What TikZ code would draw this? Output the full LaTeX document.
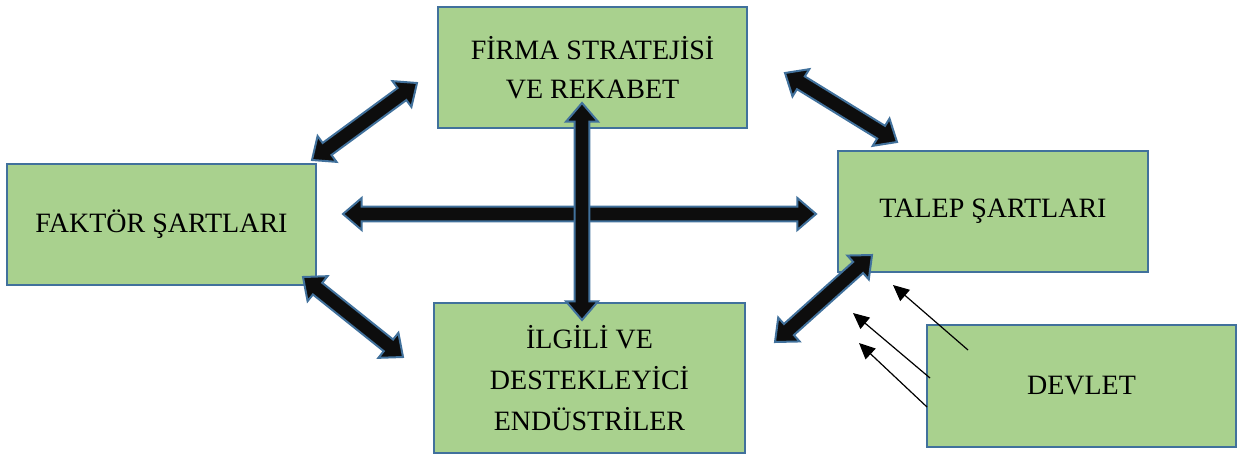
\documentclass[tikz,border=0pt]{standalone}
\usepackage{fontspec}
\setmainfont{Liberation Serif}
\usetikzlibrary{calc,arrows.meta}
\definecolor{boxgreen}{HTML}{A9D18E}
\definecolor{boxblue}{HTML}{41719C}
\definecolor{arrblack}{HTML}{0D0D0D}
\newcommand\blockarrow[2]{%
  \filldraw[blockarr] (#1)
   -- ($(#1)!14pt!(#2)!12pt!90:(#2)$)
   -- ($(#1)!14pt!(#2)!5.6pt!90:(#2)$)
   -- ($(#2)!14pt!(#1)!5.6pt!-90:(#1)$)
   -- ($(#2)!14pt!(#1)!12pt!-90:(#1)$)
   -- (#2)
   -- ($(#2)!14pt!(#1)!12pt!90:(#1)$)
   -- ($(#2)!14pt!(#1)!5.6pt!90:(#1)$)
   -- ($(#1)!14pt!(#2)!5.6pt!-90:(#2)$)
   -- ($(#1)!14pt!(#2)!12pt!-90:(#2)$)
   -- cycle;}
\tikzset{
  box/.style={draw=boxblue, fill=boxgreen, line width=2pt, rectangle,
    inner sep=0pt, align=center, text=black,
    font=\fontsize{21}{29.5}\selectfont},
  blockarr/.style={draw=boxblue, fill=arrblack, line width=1.5pt, line join=miter},
  thinarr/.style={draw=black, line width=0.9pt, -{Triangle[length=12pt,width=11pt]}}
}
\begin{document}
\begin{tikzpicture}[x=0.75pt,y=-0.75pt]
\useasboundingbox (0,0) rectangle (1245,457);
% boxes
\node[box, minimum width=231.75pt, minimum height=90.75pt] (firma) at (592.5,67.5) {FİRMA STRATEJİSİ\\VE REKABET};
\node[box, minimum width=231.75pt, minimum height=90.75pt] (faktor) at (161.5,224.5) {FAKTÖR ŞARTLARI};
\node[box, minimum width=232.5pt, minimum height=90.75pt] (talep) at (993,211.5) {TALEP ŞARTLARI};
\node[box, minimum width=233.25pt, minimum height=112.5pt, font=\fontsize{21}{31}\selectfont] (ilgili) at (589.5,378) {\raisebox{0pt}[0pt][0pt]{}İLGİLİ VE\\DESTEKLEYİCİ\\ENDÜSTRİLER};
\node[box, minimum width=231.75pt, minimum height=91.5pt] (devlet) at (1081.5,386) {DEVLET};
% connector end points
\coordinate (a1) at (417,83);  \coordinate (a2) at (312,160);
\coordinate (b1) at (785,73);  \coordinate (b2) at (897,142);
\coordinate (c1) at (343,214); \coordinate (c2) at (816,214);
\coordinate (d1) at (582,103); \coordinate (d2) at (582,320);
\coordinate (e1) at (303,277); \coordinate (e2) at (403,357);
\coordinate (g1) at (872,255); \coordinate (g2) at (775,342);
\coordinate (t1) at (968,350); \coordinate (t1e) at (893,285);
\coordinate (t2) at (930,378); \coordinate (t2e) at (853,313);
\coordinate (t3) at (927,407); \coordinate (t3e) at (859,343);
% block arrows
\blockarrow{a1}{a2}
\blockarrow{b1}{b2}
\blockarrow{c1}{c2}
\blockarrow{d1}{d2}
\blockarrow{e1}{e2}
\blockarrow{g1}{g2}
% thin arrows from DEVLET
\draw[thinarr] (t1) -- (t1e);
\draw[thinarr] (t2) -- (t2e);
\draw[thinarr] (t3) -- (t3e);
\end{tikzpicture}
\end{document}
